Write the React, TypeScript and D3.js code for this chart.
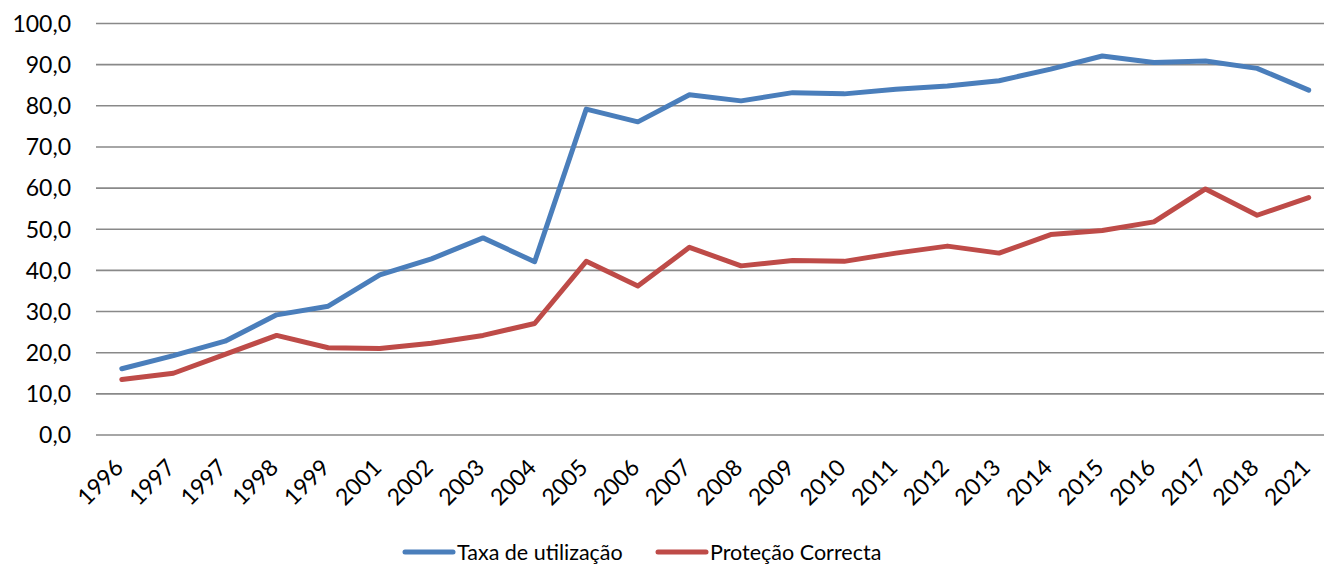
import React, { useEffect, useRef } from "react";
import * as d3 from "d3";

const years = [
  "1996", "1997", "1997", "1998", "1999", "2001", "2002", "2003", "2004",
  "2005", "2006", "2007", "2008", "2009", "2010", "2011", "2012", "2013",
  "2014", "2015", "2016", "2017", "2018", "2021",
];

const taxaUtilizacao = [
  16.1, 19.3, 22.8, 29.2, 31.3, 38.9, 42.8, 47.9, 42.1, 79.2, 76.1, 82.7,
  81.2, 83.2, 82.9, 84.0, 84.8, 86.1, 88.9, 92.1, 90.5, 90.9, 89.1, 83.8,
];

const protecaoCorrecta = [
  13.5, 15.0, 19.6, 24.2, 21.2, 21.0, 22.3, 24.2, 27.1, 42.2, 36.2, 45.6,
  41.1, 42.4, 42.2, 44.2, 45.9, 44.2, 48.7, 49.7, 51.8, 59.8, 53.4, 57.7,
];

const yTicks = [0, 10, 20, 30, 40, 50, 60, 70, 80, 90, 100];

const series = [
  { name: "Taxa de utilização", values: taxaUtilizacao, color: "#4a7ebb" },
  { name: "Proteção Correcta", values: protecaoCorrecta, color: "#be4b48" },
];

export default function App() {
  const ref = useRef<SVGSVGElement>(null);
  const width = 1324;
  const height = 567;
  const font = "Lato, 'Open Sans', sans-serif";
  const fs = 23;

  useEffect(() => {
    const svg = d3.select(ref.current);
    svg.selectAll("*").remove();

    const x = d3
      .scaleBand<number>()
      .domain(d3.range(years.length))
      .range([96, 1334.5]);
    const xc = (i: number) => (x(i) as number) + x.bandwidth() / 2;

    const y = d3.scaleLinear().domain([0, 100]).range([435, 23.5]);

    // grid lines
    svg
      .append("g")
      .selectAll("line")
      .data(yTicks)
      .join("line")
      .attr("x1", 96)
      .attr("x2", width)
      .attr("y1", (d) => y(d))
      .attr("y2", (d) => y(d))
      .attr("stroke", "#898989")
      .attr("stroke-width", 1.6);

    // y labels
    svg
      .append("g")
      .selectAll("text")
      .data(yTicks)
      .join("text")
      .attr("x", 71)
      .attr("y", (d) => y(d))
      .attr("dy", "0.36em")
      .attr("text-anchor", "end")
      .attr("font-family", font)
      .attr("font-size", fs)
      .attr("fill", "#000")
      .text((d) => d3.format(".1f")(d).replace(".", ","));

    // x labels, rotated
    svg
      .append("g")
      .selectAll("text")
      .data(years)
      .join("text")
      .attr("transform", (_, i) => `translate(${xc(i) + 3},${469}) rotate(-45)`)
      .attr("text-anchor", "end")
      .attr("font-family", font)
      .attr("font-size", fs)
      .attr("fill", "#000")
      .text((d) => d);

    const line = d3
      .line<number>()
      .x((_, i) => xc(i))
      .y((d) => y(d));

    for (const s of series) {
      svg
        .append("path")
        .attr("d", line(s.values))
        .attr("fill", "none")
        .attr("stroke", s.color)
        .attr("stroke-width", 5)
        .attr("stroke-linejoin", "round")
        .attr("stroke-linecap", "round");
    }

    // legend
    const legendX = [405, 658];
    series.forEach((s, i) => {
      const g = svg.append("g").attr("transform", `translate(${legendX[i]},552)`);
      g.append("line")
        .attr("x1", 0)
        .attr("x2", 48)
        .attr("stroke", s.color)
        .attr("stroke-width", 5)
        .attr("stroke-linecap", "round");
      g.append("text")
        .attr("x", 52)
        .attr("dy", "0.36em")
        .attr("font-family", font)
        .attr("font-size", 21.5)
        .attr("fill", "#000")
        .text(s.name);
    });
  }, []);

  return (
    <svg
      ref={ref}
      width={width}
      height={height}
      style={{ position: "absolute", left: 0, top: 0 }}
    ></svg>
  );
}
